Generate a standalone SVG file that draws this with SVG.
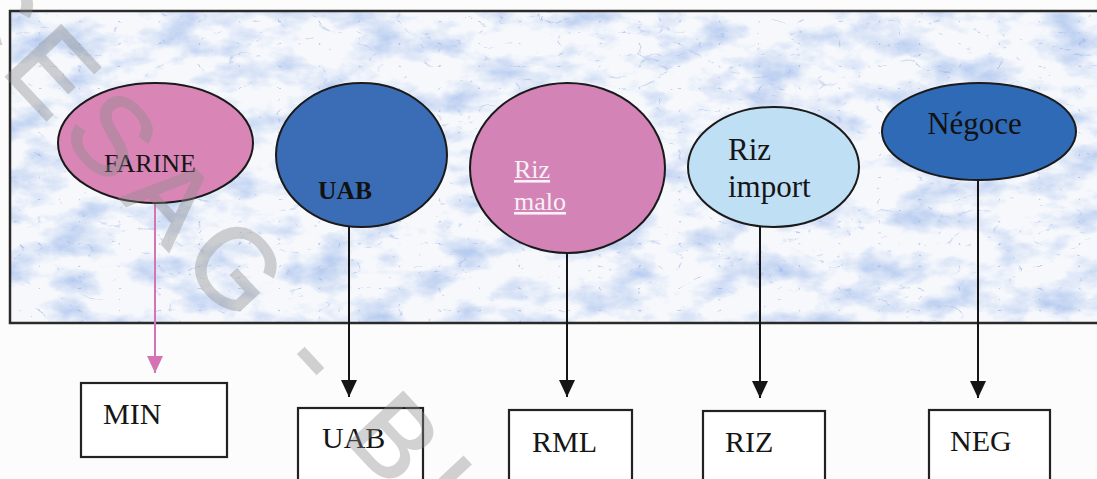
<svg xmlns="http://www.w3.org/2000/svg" width="1097" height="479" viewBox="0 0 1097 479">
  <defs>
    <style>
      .serif { font-family: "Liberation Serif", "Times New Roman", serif; }
      .ell { stroke: #1a1a1a; stroke-width: 2; }
      .box { fill: #ffffff; stroke: #222222; stroke-width: 2.2; }
      .lbl { fill: #151515; font-size: 30px; }
      .link { fill: none; stroke: #151515; stroke-width: 2; }
      .link-pink { fill: none; stroke: #d574b4; stroke-width: 2; }
      .wm { font-family: "Liberation Sans", Arial, sans-serif; font-size: 110px; letter-spacing: 14px; fill: #8a8a8a; stroke: #8a8a8a; stroke-width: 2; opacity: 0.38; }
    </style>
    <!-- marble texture for the panel background -->
    <filter id="marble" x="0" y="0" width="1" height="1" color-interpolation-filters="sRGB">
      <feTurbulence type="fractalNoise" baseFrequency="0.02 0.035" numOctaves="5" seed="11" result="noise"/>
      <feColorMatrix in="noise" type="matrix" values="0 0 0 0 0.72  0 0 0 0 0.80  0 0 0 0 0.94  2.4 0 0 0 -1.05" result="blot"/>
      <feTurbulence type="turbulence" baseFrequency="0.025 0.045" numOctaves="3" seed="4" result="t2"/>
      <feColorMatrix in="t2" type="matrix" values="0 0 0 0 0.52  0 0 0 0 0.62  0 0 0 0 0.86  -6 0 0 0 0.45" result="veins"/>
      <feMerge>
        <feMergeNode in="SourceGraphic"/>
        <feMergeNode in="blot"/>
        <feMergeNode in="veins"/>
      </feMerge>
    </filter>
    <marker id="arrow" markerUnits="userSpaceOnUse" markerWidth="18" markerHeight="16" viewBox="0 0 18 16" refX="17" refY="8" orient="auto">
      <path d="M0,0 L17,8 L0,16 Z" fill="#151515"/>
    </marker>
    <marker id="arrow-pink" markerUnits="userSpaceOnUse" markerWidth="18" markerHeight="16" viewBox="0 0 18 16" refX="17" refY="8" orient="auto">
      <path d="M0,0 L17,8 L0,16 Z" fill="#d574b4"/>
    </marker>
  </defs>

  <rect x="0" y="0" width="1097" height="479" fill="#fcfcfc"/>

  <!-- panel -->
  <g id="panel">
    <rect x="10" y="11" width="1095" height="312" fill="#f6f8fc" filter="url(#marble)"/>
    <rect x="10" y="11" width="1095" height="312" fill="none" stroke="#2a2a2a" stroke-width="2.5"/>
  </g>

  <!-- connectors -->
  <g id="connectors">
    <line class="link-pink" x1="155" y1="203" x2="155" y2="373" marker-end="url(#arrow-pink)"/>
    <line class="link" x1="349" y1="226" x2="349" y2="397" marker-end="url(#arrow)"/>
    <line class="link" x1="567" y1="253" x2="567" y2="397" marker-end="url(#arrow)"/>
    <line class="link" x1="760" y1="226" x2="760" y2="398" marker-end="url(#arrow)"/>
    <line class="link" x1="978" y1="180" x2="978" y2="398" marker-end="url(#arrow)"/>
  </g>

  <!-- source ellipses -->
  <g id="farine">
    <ellipse class="ell" cx="155.5" cy="143" rx="97.5" ry="60" fill="#d986b7"/>
    <text class="serif" x="150" y="172" font-size="26" text-anchor="middle" fill="#151515">FARINE</text>
  </g>
  <g id="uab-source">
    <ellipse class="ell" cx="361.5" cy="155" rx="85.5" ry="72" fill="#3b6db6"/>
    <text class="serif" x="345" y="199" font-size="25.5" font-weight="bold" text-anchor="middle" fill="#111111">UAB</text>
  </g>
  <g id="riz-malo">
    <ellipse class="ell" cx="567.5" cy="168" rx="97.5" ry="85" fill="#d383b5"/>
    <text class="serif" x="514" y="178" font-size="26" fill="#f7f0f6" text-decoration="underline">Riz</text>
    <text class="serif" x="514" y="210" font-size="26" fill="#f7f0f6" text-decoration="underline">malo</text>
  </g>
  <g id="riz-import">
    <ellipse class="ell" cx="773.5" cy="167" rx="85.5" ry="60" fill="#bfdff5"/>
    <text class="serif" x="728" y="160" font-size="31" fill="#151515">Riz</text>
    <text class="serif" x="728" y="197" font-size="31" fill="#151515">import</text>
  </g>
  <g id="negoce">
    <ellipse class="ell" cx="979" cy="131.5" rx="97" ry="48.5" fill="#2f6ab6"/>
    <text class="serif" x="974.5" y="134" font-size="31" text-anchor="middle" fill="#111111">Négoce</text>
  </g>

  <!-- target boxes -->
  <g id="min">
    <rect class="box" x="81" y="383" width="146" height="74"/>
    <text class="serif lbl" x="103" y="424">MIN</text>
  </g>
  <g id="uab">
    <rect class="box" x="298" y="408" width="125" height="90"/>
    <text class="serif lbl" x="322" y="448">UAB</text>
  </g>
  <g id="rml">
    <rect class="box" x="509" y="410" width="123" height="90"/>
    <text class="serif lbl" x="532" y="452">RML</text>
  </g>
  <g id="riz">
    <rect class="box" x="703" y="411" width="122" height="90"/>
    <text class="serif lbl" x="725" y="452">RIZ</text>
  </g>
  <g id="neg">
    <rect class="box" x="929" y="410" width="121" height="90"/>
    <text class="serif lbl" x="950" y="451">NEG</text>
  </g>

  <!-- library stamp across the page -->
  <g id="stamp" transform="translate(-64,2) rotate(47)">
    <text class="wm" x="0" y="0">CESAG - BI</text>
  </g>
</svg>
